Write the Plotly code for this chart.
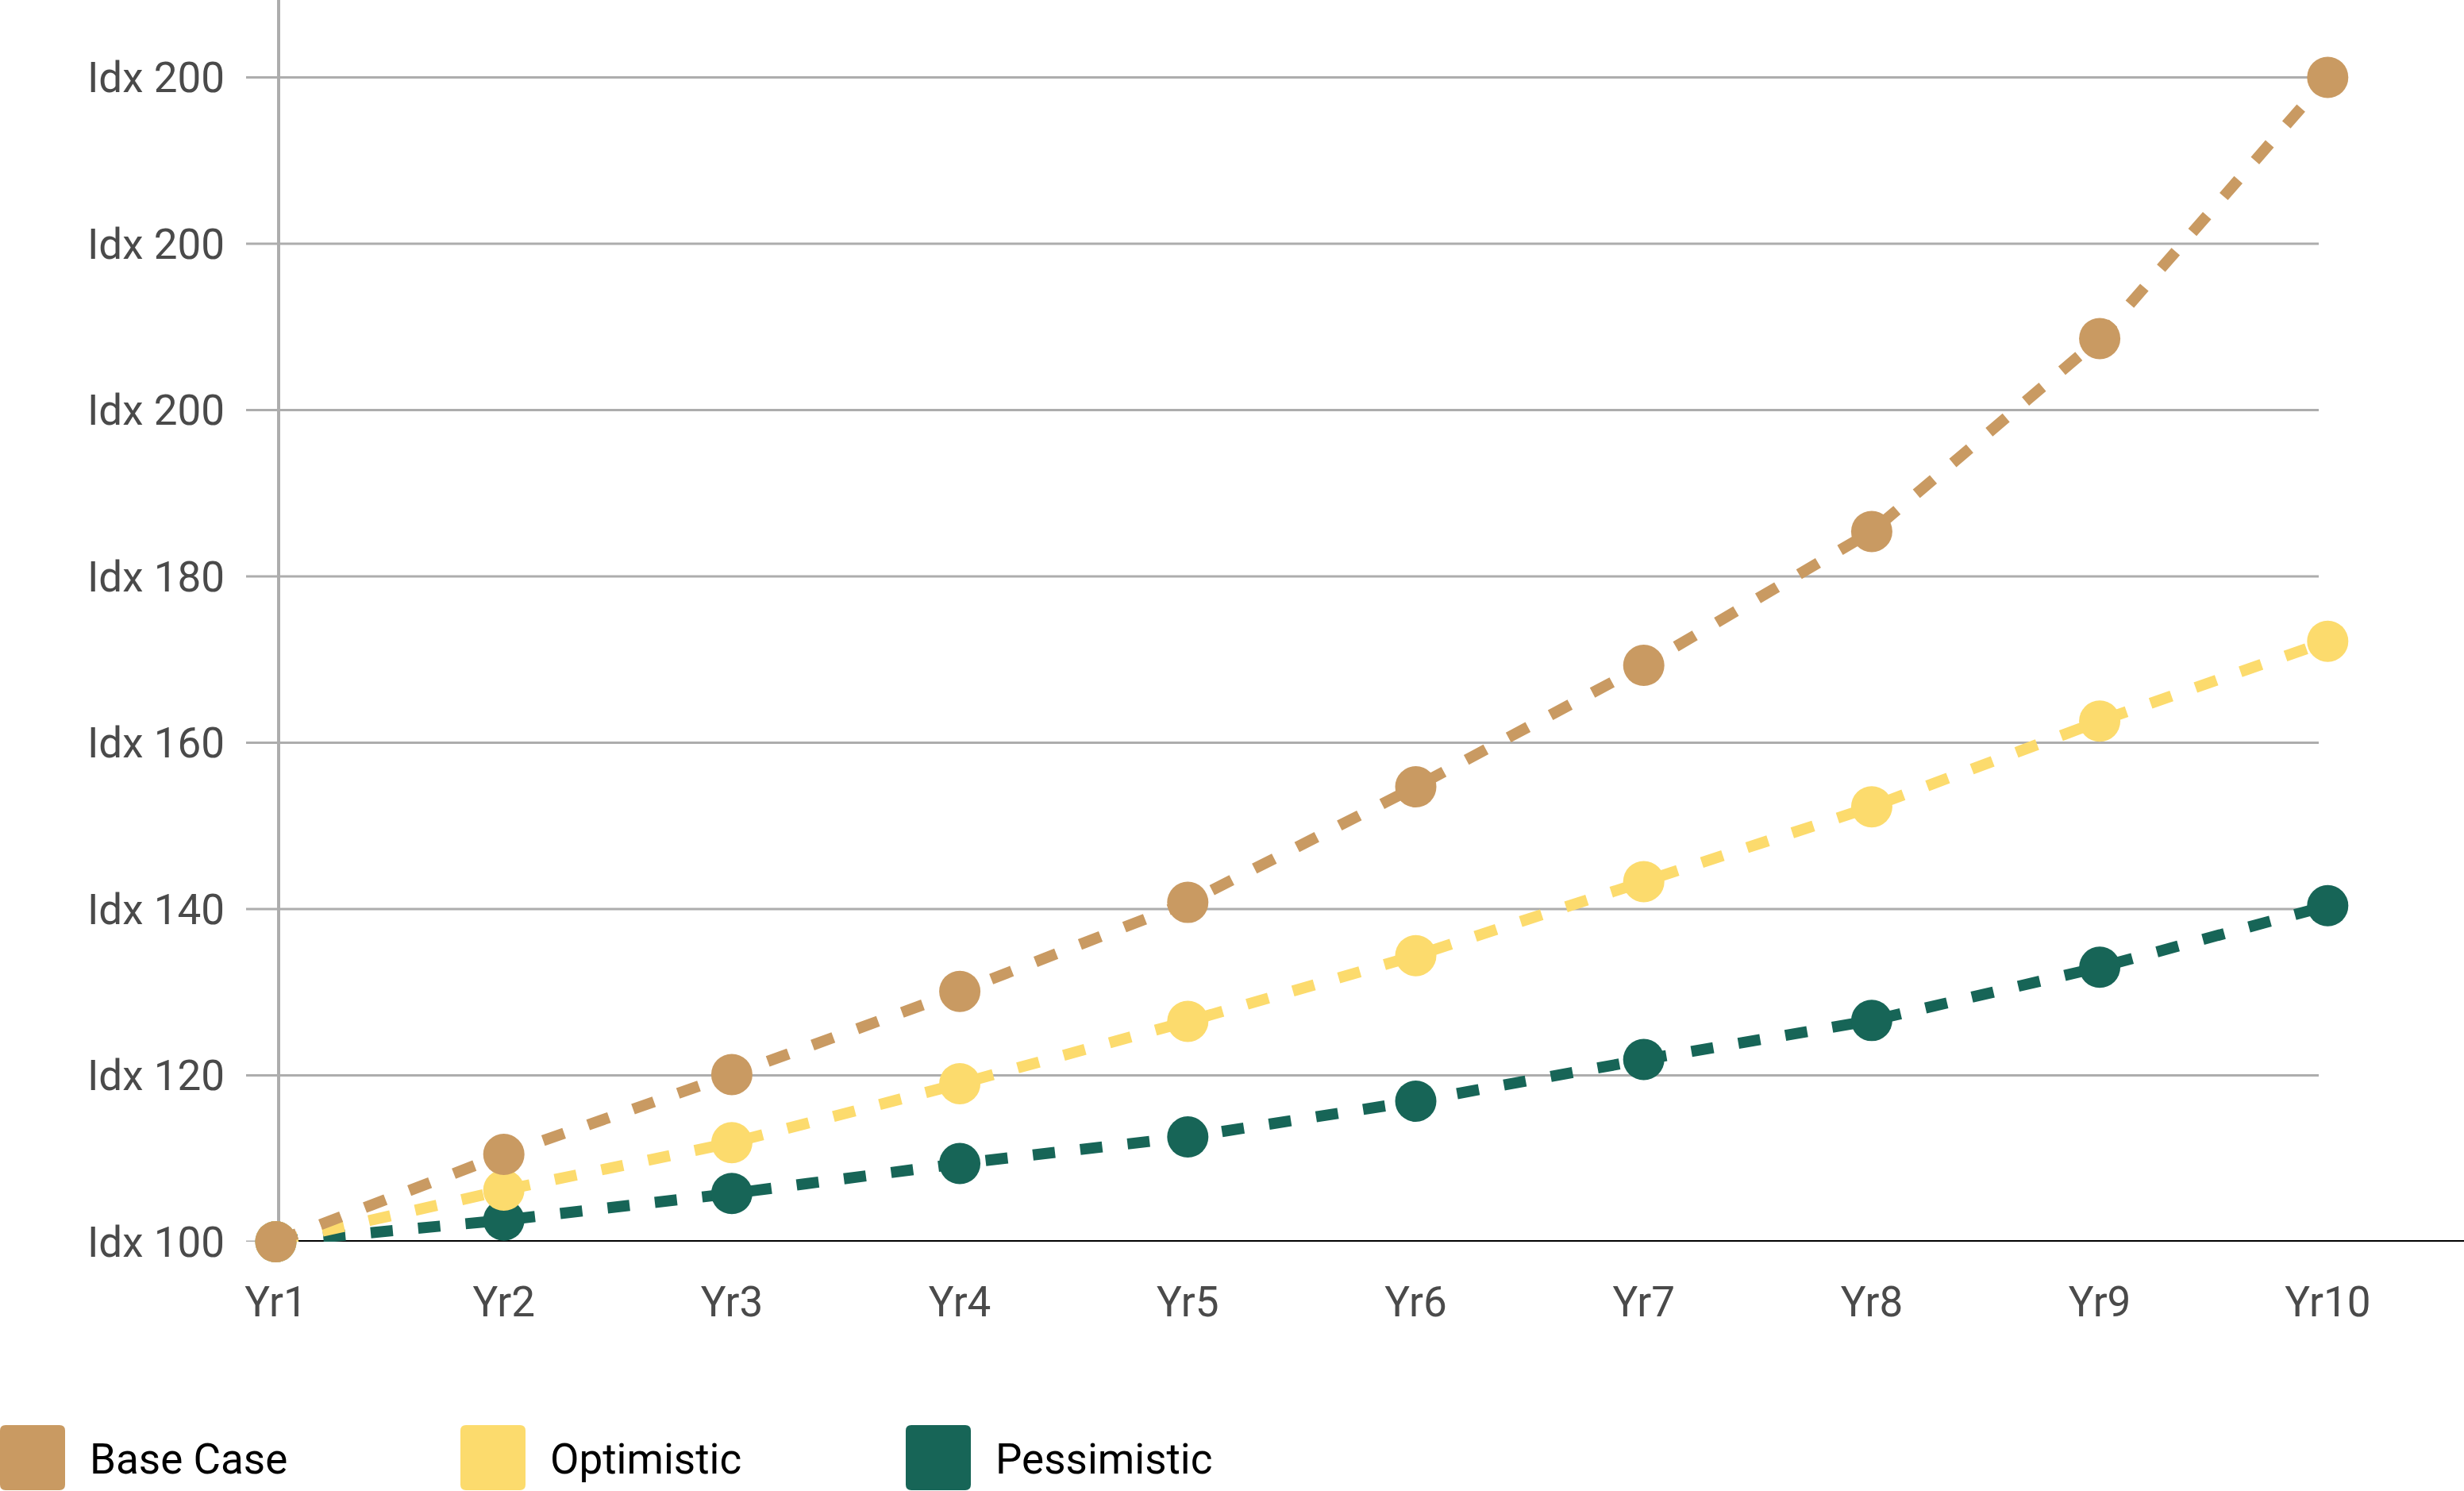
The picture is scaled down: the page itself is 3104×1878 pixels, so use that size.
import plotly.graph_objects as go

# ---------------- data ----------------
years = ["Yr1", "Yr2", "Yr3", "Yr4", "Yr5", "Yr6", "Yr7", "Yr8", "Yr9", "Yr10"]
base_case = [100, 110.5, 120.1, 130.1, 140.8, 154.7, 169.3, 185.4, 208.6, 240.0]
optimistic = [100, 106.2, 111.9, 119.0, 126.5, 134.4, 143.3, 152.3, 162.6, 172.2]
pessimistic = [100, 102.6, 105.8, 109.4, 112.6, 116.9, 121.9, 126.6, 133.0, 140.4]

series_names = ["Base Case", "Optimistic", "Pessimistic"]
series_colors = ["#C99A62", "#FCDB6D", "#176557"]

ytick_vals = [100, 120, 140, 160, 180, 200, 220, 240]
ytick_text = ["Idx 100", "Idx 120", "Idx 140", "Idx 160", "Idx 180",
              "Idx 200", "Idx 200", "Idx 200"]

# ---------------- layout geometry ----------------
W, H = 3104, 1878
ML, MR, MT, MB = 310, 144, 0, 314
PW, PH = W - ML - MR, H - MT - MB
STEP = 287.2          # px per category
X0PX = 347.5          # px position of first category
GRID_END = 2921       # right end of horizontal grid lines (px)
AXIS_X = 351          # vertical axis line (px)

def px(x):
    return (x - ML) / PW

def py(y):
    return (H - MB - y) / PH

FONT = "Roboto, 'Open Sans', sans-serif"
GRID = "#ADADAD"

fig = go.Figure()
series_values = [base_case, optimistic, pessimistic]
# draw pessimistic first so base case sits on top
for name, vals, col in reversed(list(zip(series_names, series_values, series_colors))):
    fig.add_trace(go.Scatter(
        x=list(range(len(years))), y=vals, name=name,
        mode="lines+markers",
        line=dict(color=col, width=14, dash="28px,32px"),
        marker=dict(color=col, size=52, line=dict(width=0)),
        cliponaxis=False, showlegend=False,
    ))

fig.update_xaxes(
    range=[(ML - X0PX) / STEP, (W - MR - X0PX) / STEP],
    tickmode="array", tickvals=list(range(len(years))), ticktext=years,
    showgrid=False, zeroline=False, showline=False, ticks="",
    tickfont=dict(family=FONT, size=53, color="#4A4A4A"),
    ticklabelstandoff=40,
)
fig.update_yaxes(
    range=[100, 100 + PH / 10.475],
    tickmode="array", tickvals=ytick_vals, ticktext=ytick_text,
    showgrid=False, zeroline=False, showline=False, ticks="",
    tickfont=dict(family=FONT, size=53, color="#4A4A4A"),
    ticklabelstandoff=26,
)

shapes = []
# horizontal grid lines (stop short of the last category)
for v in ytick_vals:
    shapes.append(dict(type="line", xref="paper", yref="y", x0=0, x1=px(GRID_END),
                       y0=v, y1=v, line=dict(color=GRID, width=3), layer="between"))
# vertical axis line
shapes.append(dict(type="line", xref="paper", yref="paper", x0=px(AXIS_X), x1=px(AXIS_X),
                   y0=0, y1=1, line=dict(color=GRID, width=4), layer="between"))
# black baseline at Idx 100 extending to the right edge
shapes.append(dict(type="line", xref="paper", yref="y", x0=px(AXIS_X), x1=px(W + 20),
                   y0=100, y1=100, line=dict(color="black", width=4), layer="between"))

# custom legend with rounded squares
annotations = []
legend_x = [0, 580, 1141]
sq = 82
top = 1795
r = 7
for name, col, lx in zip(series_names, series_colors, legend_x):
    x0, x1 = lx, lx + sq
    y0, y1 = top, top + sq
    path = (f"M {px(x0 + r)},{py(y0)} L {px(x1 - r)},{py(y0)} "
            f"Q {px(x1)},{py(y0)} {px(x1)},{py(y0 + r)} "
            f"L {px(x1)},{py(y1 - r)} Q {px(x1)},{py(y1)} {px(x1 - r)},{py(y1)} "
            f"L {px(x0 + r)},{py(y1)} Q {px(x0)},{py(y1)} {px(x0)},{py(y1 - r)} "
            f"L {px(x0)},{py(y0 + r)} Q {px(x0)},{py(y0)} {px(x0 + r)},{py(y0)} Z")
    shapes.append(dict(type="path", xref="paper", yref="paper", path=path,
                       fillcolor=col, line=dict(width=0)))
    annotations.append(dict(xref="paper", yref="paper", x=px(lx + 111), y=py(top + sq / 2 + 2),
                            xanchor="left", yanchor="middle", showarrow=False,
                            text=name, font=dict(family=FONT, size=53, color="#000000")))

fig.update_layout(
    width=W, height=H,
    margin=dict(l=ML, r=MR, t=MT, b=MB, pad=0),
    paper_bgcolor="white", plot_bgcolor="white",
    shapes=shapes, annotations=annotations,
    showlegend=False,
)

fig.write_html("out.html")
